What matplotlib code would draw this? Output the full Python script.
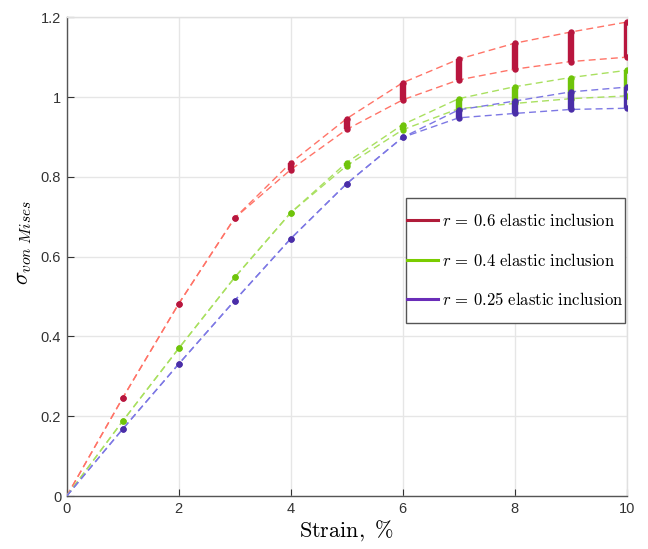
import matplotlib
matplotlib.use("Agg")
import matplotlib.pyplot as plt
from matplotlib.patches import Rectangle
import numpy as np

plt.rcParams['mathtext.fontset'] = 'cm'
plt.rcParams['font.family'] = ['Liberation Sans', 'DejaVu Sans']

strain = [0, 1, 2, 3, 4, 5, 6, 7, 8, 9, 10]

# Upper / lower bounds of the von Mises stress for each inclusion size
r06_upper = [0, 0.246, 0.482, 0.697, 0.835, 0.946, 1.036, 1.095, 1.135, 1.163, 1.188]
r06_lower = [0, 0.246, 0.482, 0.697, 0.818, 0.919, 0.993, 1.043, 1.070, 1.089, 1.100]

r04_upper = [0, 0.188, 0.370, 0.548, 0.710, 0.836, 0.931, 0.996, 1.026, 1.049, 1.067]
r04_lower = [0, 0.188, 0.370, 0.548, 0.710, 0.828, 0.918, 0.971, 0.984, 0.996, 1.003]

r025_upper = [0, 0.168, 0.331, 0.490, 0.645, 0.783, 0.899, 0.968, 0.990, 1.013, 1.025]
r025_lower = [0, 0.168, 0.331, 0.490, 0.645, 0.783, 0.899, 0.948, 0.959, 0.969, 0.972]

labels = [r'$r\,=\,0.6\ \mathrm{elastic\ inclusion}$',
          r'$r\,=\,0.4\ \mathrm{elastic\ inclusion}$',
          r'$r\,=\,0.25\ \mathrm{elastic\ inclusion}$']

x_ticks = [0, 2, 4, 6, 8, 10]
y_ticks = [0, 0.2, 0.4, 0.6, 0.8, 1.0, 1.2]
y_tick_labels = ['0', '0.2', '0.4', '0.6', '0.8', '1', '1.2']

groups = [
    (r06_upper, r06_lower, '#ff7468', '#b8163e', '#b01c3a'),
    (r04_upper, r04_lower, '#a9e060', '#6fc40a', '#7acc00'),
    (r025_upper, r025_lower, '#7d78e4', '#4a2ea8', '#6a2db8'),
]

fig = plt.figure(figsize=(6.48, 5.49), dpi=100)
ax = fig.add_axes([0.103, 0.0965, 0.864, 0.872])

x = np.array(strain)
handles = []
for (up, lo, dash_c, bar_c, leg_c), lab in zip(groups, labels):
    up = np.array(up)
    lo = np.array(lo)
    ax.plot(x, up, color=dash_c, lw=1.0, ls=(0, (5, 3)), zorder=3)
    ax.plot(x, lo, color=dash_c, lw=1.0, ls=(0, (5, 3)), zorder=3)
    ax.vlines(x[1:], lo[1:], up[1:], color=bar_c, lw=4.6, zorder=4)
    ax.plot(x[1:], up[1:], 'o', color=bar_c, ms=4.6, mew=0, zorder=4)
    ax.plot(x[1:], lo[1:], 'o', color=bar_c, ms=4.6, mew=0, zorder=4)
    h, = ax.plot([], [], color=leg_c, lw=2.2, label=lab)
    handles.append(h)

ax.set_xlim(0, 10)
ax.set_ylim(0, 1.2)
ax.set_xticks(x_ticks)
ax.set_yticks(y_ticks)
ax.set_yticklabels(y_tick_labels)
ax.tick_params(direction='in', length=5, width=0.8, colors='#333333',
               labelsize=10.5, top=False, right=False, pad=4)
ax.grid(True, color='#e6e6e6', lw=1.0, zorder=0)
ax.set_axisbelow(True)
for s in ['left', 'bottom']:
    ax.spines[s].set_color('#555555')
    ax.spines[s].set_linewidth(1.0)
for s in ['top', 'right']:
    ax.spines[s].set_color('#e0e0e0')
    ax.spines[s].set_linewidth(1.0)

ax.set_xlabel(r'$\mathrm{Strain,\ \%}$', fontsize=16, labelpad=2)
ax.set_ylabel(r'$\sigma_{von\ Mises}$', fontsize=16, labelpad=6)
ax.yaxis.set_label_coords(-0.058, 0.53)

# Legend frame drawn as a plain box, entries placed inside it
frame = Rectangle((0.606, 0.361), 0.392, 0.262, transform=ax.transAxes,
                  facecolor='white', edgecolor='#555555', lw=1.0, zorder=6)
ax.add_patch(frame)
leg = ax.legend(handles=handles, loc='center left',
                bbox_to_anchor=(0.6085, 0.493),
                fontsize=12, frameon=False,
                handlelength=1.85, handletextpad=0.25,
                labelspacing=1.35, borderpad=0.0, borderaxespad=0.0)
leg.set_zorder(7)

fig.savefig('out.png', dpi=100)
